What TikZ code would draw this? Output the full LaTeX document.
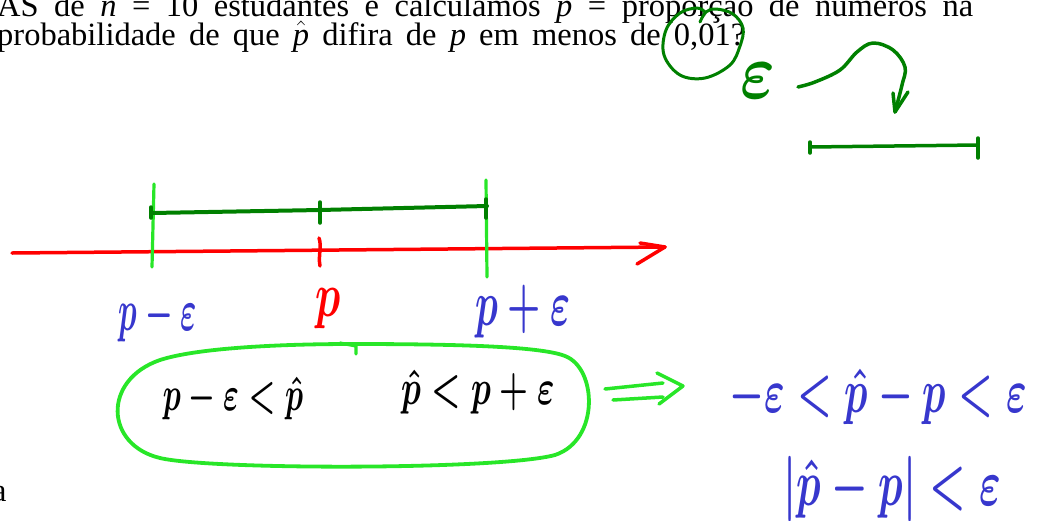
\RequirePackage{fix-cm}
\documentclass[tikz,border=0pt]{standalone}
\usepackage{fontspec}
\setmainfont{Liberation Serif}
\definecolor{dgreen}{RGB}{0,128,0}
\definecolor{lgreen}{RGB}{40,230,40}
\definecolor{hred}{RGB}{255,0,0}
\definecolor{hblue}{RGB}{55,55,205}
\tikzset{
  book/.style={inner sep=0pt, font=\fontsize{32.5}{38}\selectfont, text=black, anchor=base west},
  hw/.style={inner sep=0pt, anchor=base},
  redpen/.style={draw=hred, line width=3.5pt},
  dgpen/.style={draw=dgreen, line width=3.5pt},
  lgpen/.style={draw=lgreen, line width=3.2pt},
}
\newcommand{\hws}[3]{\fontsize{#1}{#1}\selectfont\scalebox{1}[#2]{\boldmath$#3$}}
\begin{document}
\begin{tikzpicture}[x=1pt, y=-1pt, line cap=round, line join=round]
\useasboundingbox (0,0) rectangle (1042,520);
% book text
\node[book] (line1) at (-3,16) {\hbox to 976pt{AS de \textit{n} = 10 estudantes e calculamos \textit{p} = proporção de números na}};
\node[book] (line2) at (-3,45) {\hbox to 748pt{probabilidade de que $\hat{\mbox{\textit{p}}}$ difira de \textit{p} em menos de 0,01?}};
\node[book] (frag) at (-8,501) {a};
% circle around 0,01
\draw[dgpen, line width=3pt] plot[smooth, tension=0.6] coordinates {(700,22) (706,12) (716,9) (733,14) (743,28) (740,46) (730,65) (705,78) (680,75) (664,55) (666,30) (680,13) (697,8) (705,12)};
% epsilon and curvy arrow
\node[hw, text=dgreen] (eps) at (758,98) {\hws{66}{1.2}{\varepsilon}};
\coordinate (ca0) at (798,87);
\coordinate (ca1) at (895,112);
\draw[dgpen] plot[smooth, tension=0.6] coordinates {(798,87) (815,82) (840,70) (857,52) (873,43) (893,50) (905,67) (902,85) (895,112)};
\draw[dgpen] (893,93) -- (ca1) -- (908,92);
% epsilon segment
\coordinate (es0) at (810,147);
\coordinate (es1) at (978,145);
\draw[dgpen] (es0) -- (es1);
\draw[dgpen] (810,142) -- (810,153);
\draw[dgpen] (978,138) -- (978,158);
% number line
\coordinate (nl0) at (12,253);
\coordinate (nl1) at (665,247);
\draw[redpen] (nl0) -- (nl1);
\draw[redpen] (640,243) -- (nl1) -- (637,264);
\draw[redpen] (319,238) .. controls (322,246) and (318,256) .. (320,266);
% interval bounds
\draw[lgpen] (154,184) -- (152,267);
\draw[lgpen] (486,180) -- (487,277);
% dark green interval
\coordinate (ia) at (152,213);
\coordinate (im) at (320,210);
\coordinate (ib) at (487,206);
\draw[dgpen, line width=4pt] (ia) -- (im) -- (ib);
\draw[dgpen] (151,207) -- (151,218);
\draw[dgpen] (320,202) -- (320,223);
\draw[dgpen] (486,199) -- (486,218);
% labels
\node[hw, text=hblue] (lpme) at (158,330) {\hws{31}{1.9}{p-\varepsilon}};
\node[hw, text=hred] (lp) at (328,316) {\hws{42}{1.5}{p}};
\node[hw, text=hblue] (lppe) at (523,325) {\hws{38}{1.7}{p+\varepsilon}};
% big ellipse
\draw[lgpen, line width=3.8pt] (352,344) .. controls (450,344) and (540,346) .. (565,356)
  .. controls (597,368) and (600,440) .. (555,455)
  .. controls (500,470) and (210,470) .. (160,458)
  .. controls (105,445) and (102,380) .. (160,360)
  .. controls (200,347) and (290,344) .. (352,344);
\draw[lgpen] (340,343) -- (356,346) -- (356,354);
\node[hw, text=black] (in1) at (233,410) {\hws{30}{1.6}{p-\varepsilon<\hat{p}}};
\node[hw, text=black] (in2) at (478,404) {\hws{33}{1.5}{\hat{p}<p+\varepsilon}};
% implies arrow
\draw[lgpen, line width=3.5pt] (605,389) -- (663,383);
\draw[lgpen, line width=3.5pt] (613,400) -- (663,397);
\draw[lgpen, line width=3.5pt] (657,373) -- (683,386) -- (659,404);
% conclusions
\node[hw, text=hblue] (c1) at (878,412) {\hws{39}{1.6}{-\varepsilon<\hat{p}-p<\varepsilon}};
\node[hw, text=hblue] (c2) at (892,505) {\hws{41}{1.6}{|\hat{p}-p|<\varepsilon}};
\end{tikzpicture}
\end{document}
